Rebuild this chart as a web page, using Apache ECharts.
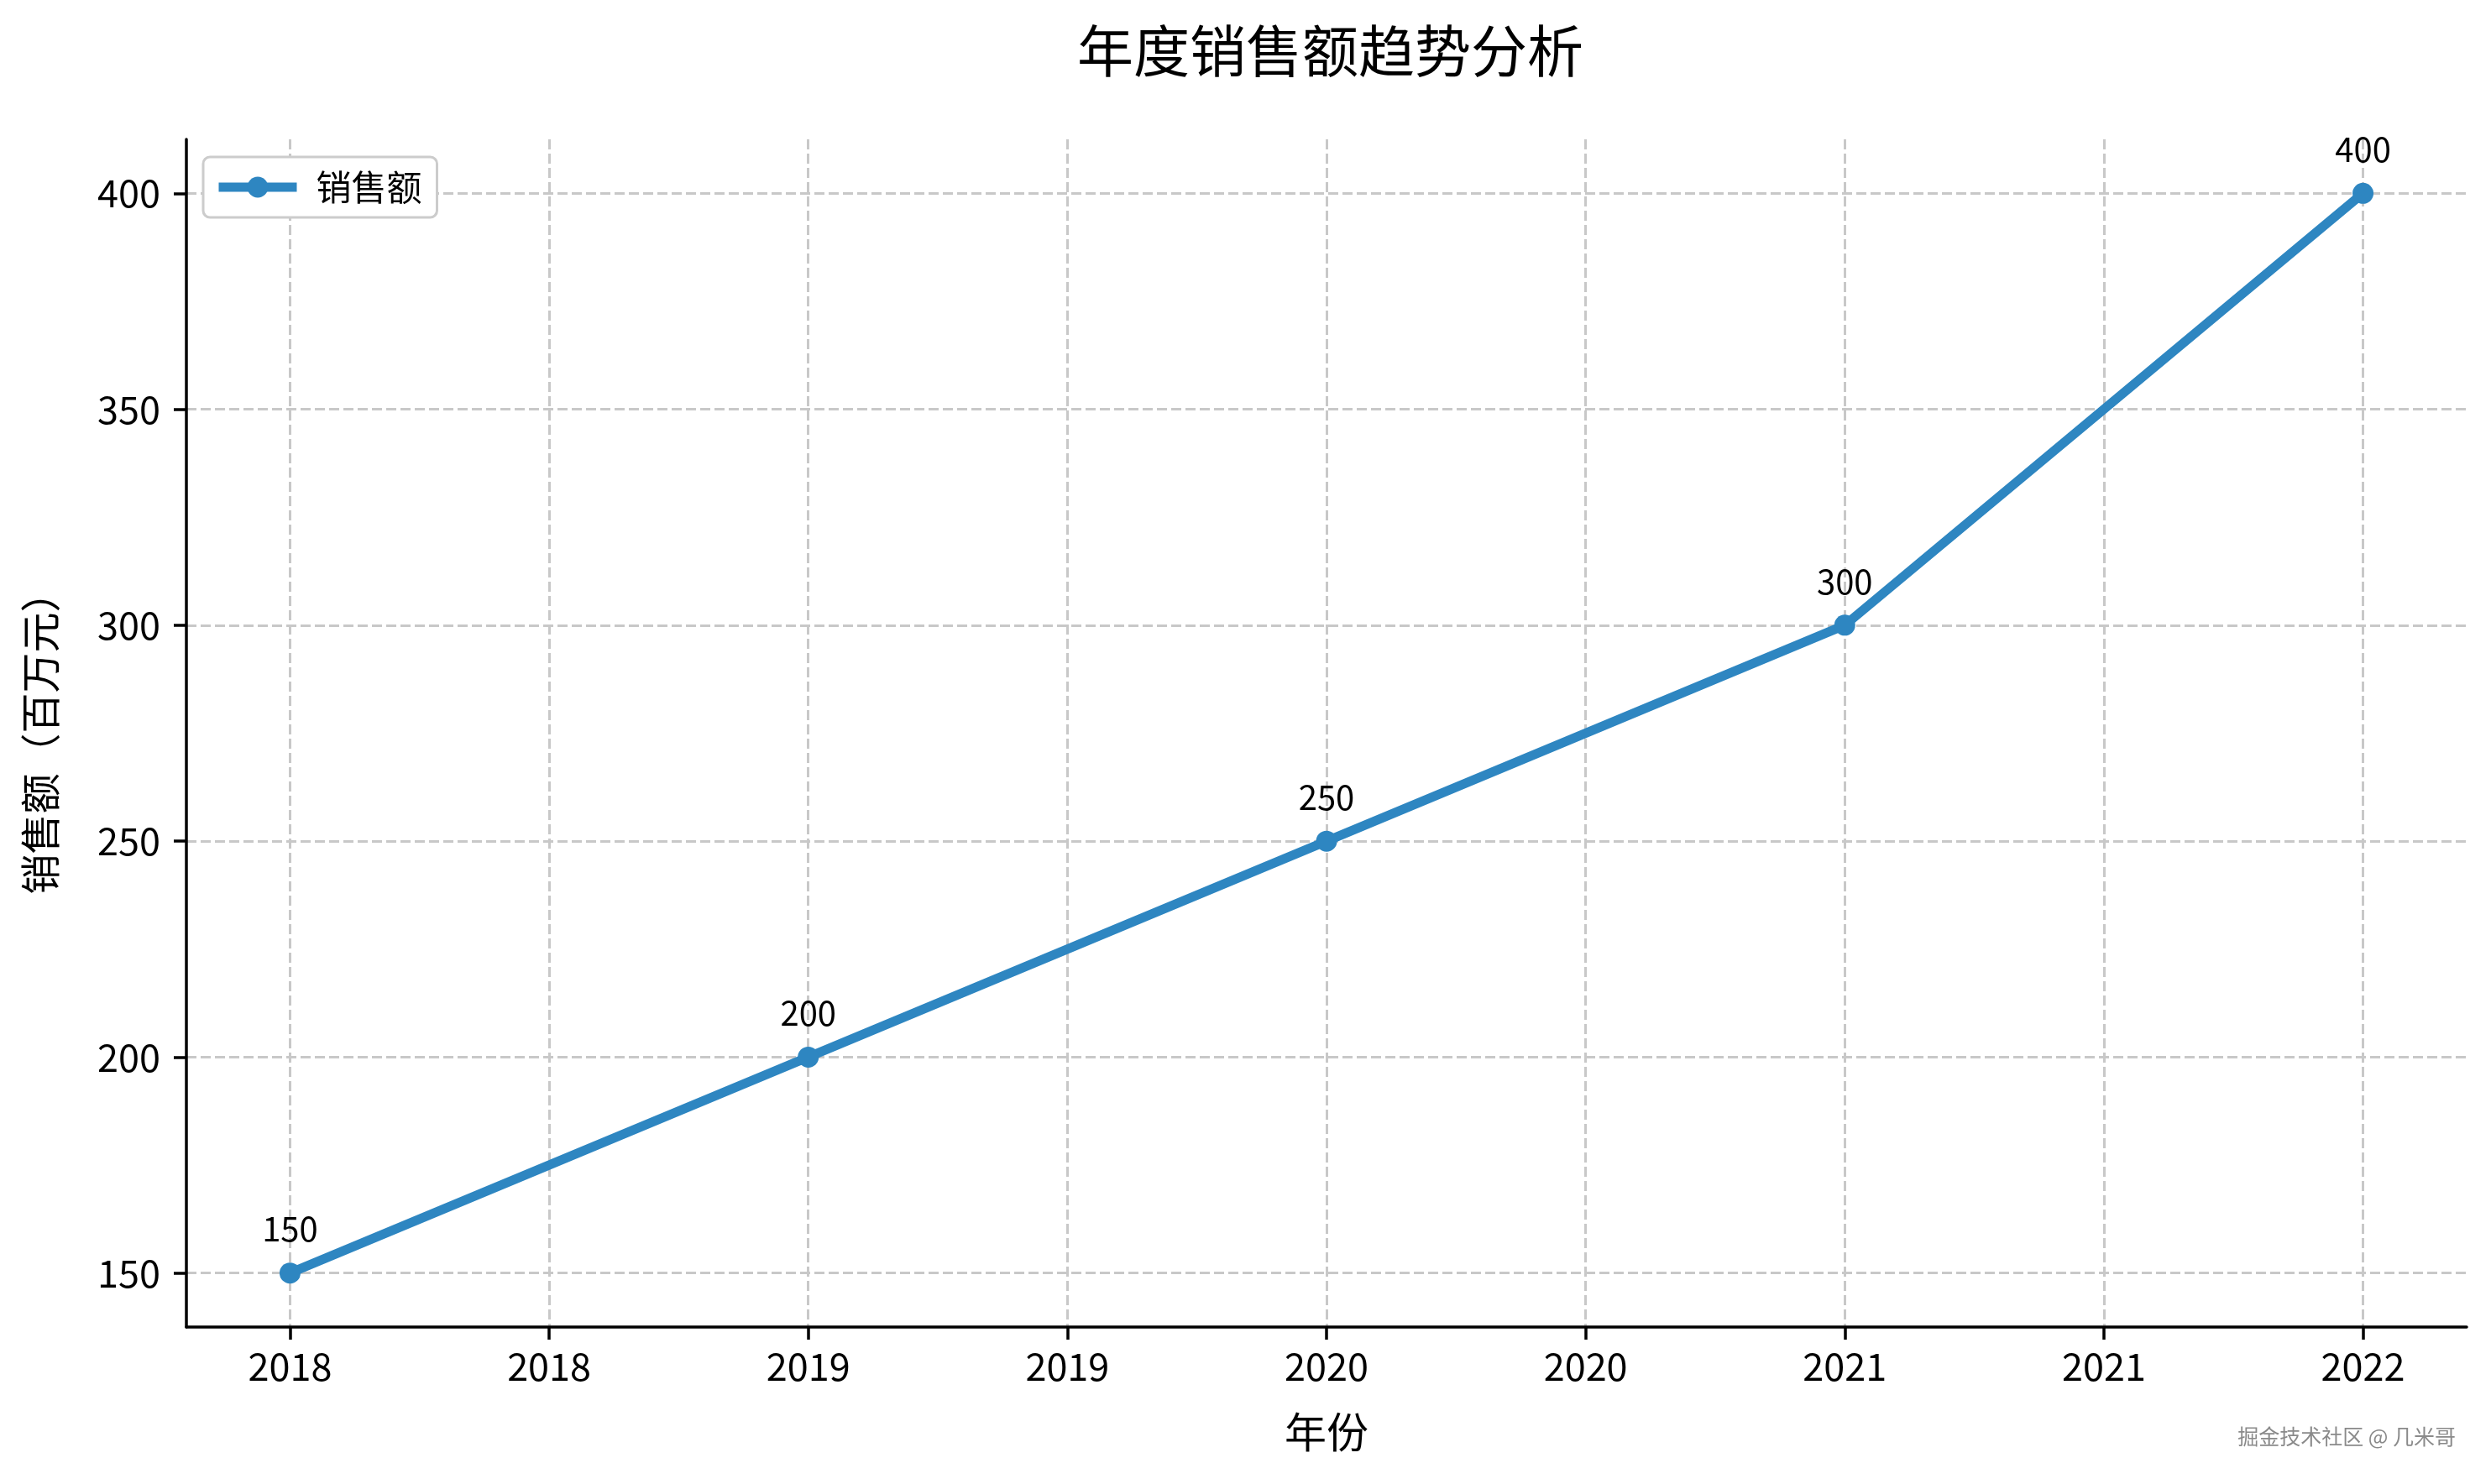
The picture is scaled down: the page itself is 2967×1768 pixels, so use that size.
<!DOCTYPE html>
<html>
<head>
<meta charset="utf-8">
<script src="https://cdn.jsdelivr.net/npm/echarts@6/dist/echarts.min.js"></script>
<style>
html,body{margin:0;padding:0;background:#fff;}
#chart{width:2967px;height:1768px;}
</style>
</head>
<body>
<div id="chart"></div>
<script>
const years = [2018, 2019, 2020, 2021, 2022];
const sales = [150, 200, 250, 300, 400];
const xTickValues = [2018, 2018.5, 2019, 2019.5, 2020, 2020.5, 2021, 2021.5, 2022];
const xTickLabels = ['2018', '2018', '2019', '2019', '2020', '2020', '2021', '2021', '2022'];
const yTickValues = [150, 200, 250, 300, 350, 400];
const xRange = [2017.8, 2022.2];
const yRange = [137.5, 412.5];

const FONT = '"Noto Sans CJK SC", "Noto Sans", sans-serif';
const LINE_COLOR = '#2E86C1';
const chart = echarts.init(document.getElementById('chart'), null, {renderer: 'canvas'});

const option = {
  backgroundColor: '#ffffff',
  animation: false,
  title: {
    text: '年度销售额趋势分析',
    left: 1278,
    top: 22,
    textStyle: {fontFamily: FONT, fontSize: 67, fontWeight: 'normal', color: '#000'}
  },
  legend: {
    left: 242,
    top: 187,
    orient: 'vertical',
    padding: [15, 18, 15, 13],
    borderColor: '#cccccc',
    borderWidth: 3,
    borderRadius: 8,
    backgroundColor: '#fff',
    itemWidth: 93,
    itemHeight: 31,
    lineStyle: {color: LINE_COLOR, width: 11},
    itemStyle: {color: LINE_COLOR},
    textStyle: {fontFamily: FONT, fontSize: 42, color: '#000', padding: [0, 0, 0, 18]},
    data: ['销售额']
  },
  grid: {left: 222, right: 29, top: 166, bottom: 187, containLabel: false},
  xAxis: {
    type: 'value',
    min: xRange[0],
    max: xRange[1],
    name: '年份',
    nameLocation: 'middle',
    nameGap: 100,
    nameTextStyle: {fontFamily: FONT, fontSize: 50, color: '#000'},
    axisLine: {show: true, onZero: false, lineStyle: {color: '#000', width: 3.5}},
    axisTick: {show: true, length: 15, lineStyle: {color: '#000', width: 3.5}, customValues: xTickValues},
    axisLabel: {
      fontFamily: FONT, fontSize: 45, color: '#000', margin: 24,
      customValues: xTickValues,
      formatter: function (v) { return xTickLabels[xTickValues.indexOf(v)]; }
    },
    splitLine: {show: true, lineStyle: {color: '#c8c8c8', width: 3, type: [12, 5]}}
  },
  yAxis: {
    type: 'value',
    min: yRange[0],
    max: yRange[1],
    name: '销售额（百万元）',
    nameLocation: 'middle',
    nameGap: 150,
    nameRotate: 90,
    nameTextStyle: {fontFamily: FONT, fontSize: 48, color: '#000'},
    axisLine: {show: true, onZero: false, lineStyle: {color: '#000', width: 3.5}},
    axisTick: {show: true, length: 15, lineStyle: {color: '#000', width: 3.5}, customValues: yTickValues},
    axisLabel: {fontFamily: FONT, fontSize: 45, color: '#000', margin: 31, customValues: yTickValues},
    splitLine: {show: true, lineStyle: {color: '#c8c8c8', width: 3, type: [12, 5]}}
  },
  series: [{
    name: '销售额',
    type: 'line',
    data: years.map((y, i) => [y, sales[i]]),
    symbol: 'circle',
    symbolSize: 25,
    lineStyle: {color: LINE_COLOR, width: 11},
    itemStyle: {color: LINE_COLOR},
    label: {
      show: true,
      position: 'top',
      distance: 20,
      fontFamily: FONT,
      fontSize: 40,
      color: '#000',
      formatter: function (p) { return String(p.value[1]); }
    }
  }],
  graphic: [{
    type: 'text',
    right: 42,
    top: 1699,
    style: {
      text: '掘金技术社区 @ 几米哥',
      fontFamily: FONT,
      fontSize: 25,
      fill: '#8a8a8a',
      textShadowColor: 'rgba(255,255,255,0.9)',
      textShadowBlur: 2,
      textShadowOffsetX: 1,
      textShadowOffsetY: 1
    }
  }]
};
chart.setOption(option);
</script>
</body>
</html>
